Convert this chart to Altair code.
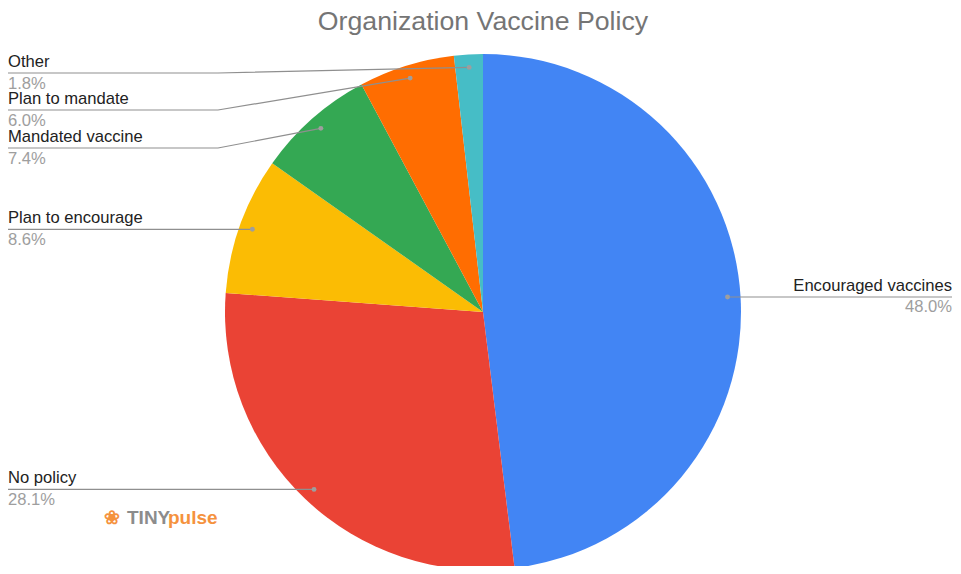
import math
import altair as alt
import pandas as pd

# ---------------- data ----------------
categories = ["Encouraged vaccines", "No policy", "Plan to encourage",
              "Mandated vaccine", "Plan to mandate", "Other"]
values = [48.0, 28.1, 8.6, 7.4, 6.0, 1.8]
pct_labels = ["48.0%", "28.1%", "8.6%", "7.4%", "6.0%", "1.8%"]
colors = ["#4285F4", "#EA4335", "#FBBC04", "#34A853", "#FF6D01", "#46BDC6"]
title_text = "Organization Vaccine Policy"

# ---------------- layout (page pixel coordinates) ----------------
W, H = 945, 558
X0, Y0 = 8, 8
CX, CY, R = 483, 312, 258
DOT_R = 245
label_side = ["right", "left", "left", "left", "left", "left"]
line_y = [None, None, None, 148, 110, 73]   # None = horizontal leader at dot height
elbow_x = 218
left_x, right_x = 8, 952
FONT = "Liberation Sans"
LABEL_SIZE = 16.6

xs = alt.Scale(domain=[X0, X0 + W], range=[0, W], nice=False, zero=False)
ys = alt.Scale(domain=[Y0, Y0 + H], range=[0, H], nice=False, zero=False)

# pie
total = sum(values)
pie_df = pd.DataFrame({"category": categories, "value": values,
                       "idx": list(range(len(values))),
                       "cx": [CX] * len(values), "cy": [CY] * len(values)})

pie = alt.Chart(pie_df).mark_arc(radius=R).encode(
    x=alt.X("cx:Q", scale=xs, axis=None),
    y=alt.Y("cy:Q", scale=ys, axis=None),
    theta=alt.Theta("value:Q", stack=True),
    order=alt.Order("idx:Q"),
    color=alt.Color("category:N", scale=alt.Scale(domain=categories, range=colors), legend=None),
)

# dots, leaders, labels
dot_rows, line_rows, name_rows, pct_rows = [], [], [], []
cum = 0.0
for i, (c, v) in enumerate(zip(categories, values)):
    ang = 2 * math.pi * (cum + v / 2) / total
    cum += v
    dx = CX + DOT_R * math.sin(ang)
    dy = CY - DOT_R * math.cos(ang)
    dot_rows.append({"category": c, "x": dx, "y": dy})
    ly = dy if line_y[i] is None else line_y[i]
    if label_side[i] == "right":
        pts = [(dx, dy), (right_x, ly)]
        tx, align = right_x, "right"
    else:
        pts = [(left_x, ly), (elbow_x, ly), (dx, dy)]
        tx, align = left_x, "left"
    for k, (px, py) in enumerate(pts):
        line_rows.append({"category": c, "k": k, "x": px, "y": py})
    name_rows.append({"text": c, "x": tx, "y": ly - 6, "align": align})
    pct_rows.append({"text": pct_labels[i], "x": tx, "y": ly + 15.5, "align": align})

dots = alt.Chart(pd.DataFrame(dot_rows)).mark_circle(size=24, color="#9e9e9e", opacity=1).encode(
    x=alt.X("x:Q", scale=xs, axis=None), y=alt.Y("y:Q", scale=ys, axis=None))

leaders = alt.Chart(pd.DataFrame(line_rows)).mark_line(color="#8f8f8f", strokeWidth=1.2).encode(
    x=alt.X("x:Q", scale=xs, axis=None), y=alt.Y("y:Q", scale=ys, axis=None),
    detail="category:N", order="k:Q")

def text_layer(rows, color):
    df = pd.DataFrame(rows)
    layers = []
    for al in ["left", "right"]:
        sub = df[df["align"] == al]
        if len(sub) == 0:
            continue
        layers.append(alt.Chart(sub).mark_text(align=al, baseline="alphabetic", font=FONT,
                                               fontSize=LABEL_SIZE, color=color).encode(
            x=alt.X("x:Q", scale=xs, axis=None), y=alt.Y("y:Q", scale=ys, axis=None),
            text="text:N"))
    return layers

names = text_layer(name_rows, "#222222")
pcts = text_layer(pct_rows, "#9e9e9e")

title = alt.Chart(pd.DataFrame({"text": [title_text], "x": [CX], "y": [30]})).mark_text(
    align="center", baseline="alphabetic", font=FONT, fontSize=26.7, color="#757575").encode(
    x=alt.X("x:Q", scale=xs, axis=None), y=alt.Y("y:Q", scale=ys, axis=None), text="text:N")

logo_df = pd.DataFrame({"text": ["\u2740", "TINY", "pulse"],
                        "x": [104, 127, 168], "y": [524, 524, 524],
                        "c": ["icon", "tiny", "pulse"]})
logo = alt.Chart(logo_df).mark_text(align="left", baseline="alphabetic", font=FONT,
                                    fontSize=19, fontWeight="bold").encode(
    x=alt.X("x:Q", scale=xs, axis=None), y=alt.Y("y:Q", scale=ys, axis=None), text="text:N",
    color=alt.Color("c:N", scale=alt.Scale(domain=["icon", "tiny", "pulse"],
                                           range=["#F5923E", "#8c8c8c", "#F5923E"]), legend=None))

chart = alt.layer(pie, leaders, dots, *names, *pcts, title, logo).resolve_scale(
    color="independent"
).properties(
    width=W, height=H, autosize=alt.AutoSizeParams(type="none"), padding=0,
    background="white"
).configure_view(stroke=None)

chart.save("out.html", embed_options={"renderer": "svg", "actions": False})
